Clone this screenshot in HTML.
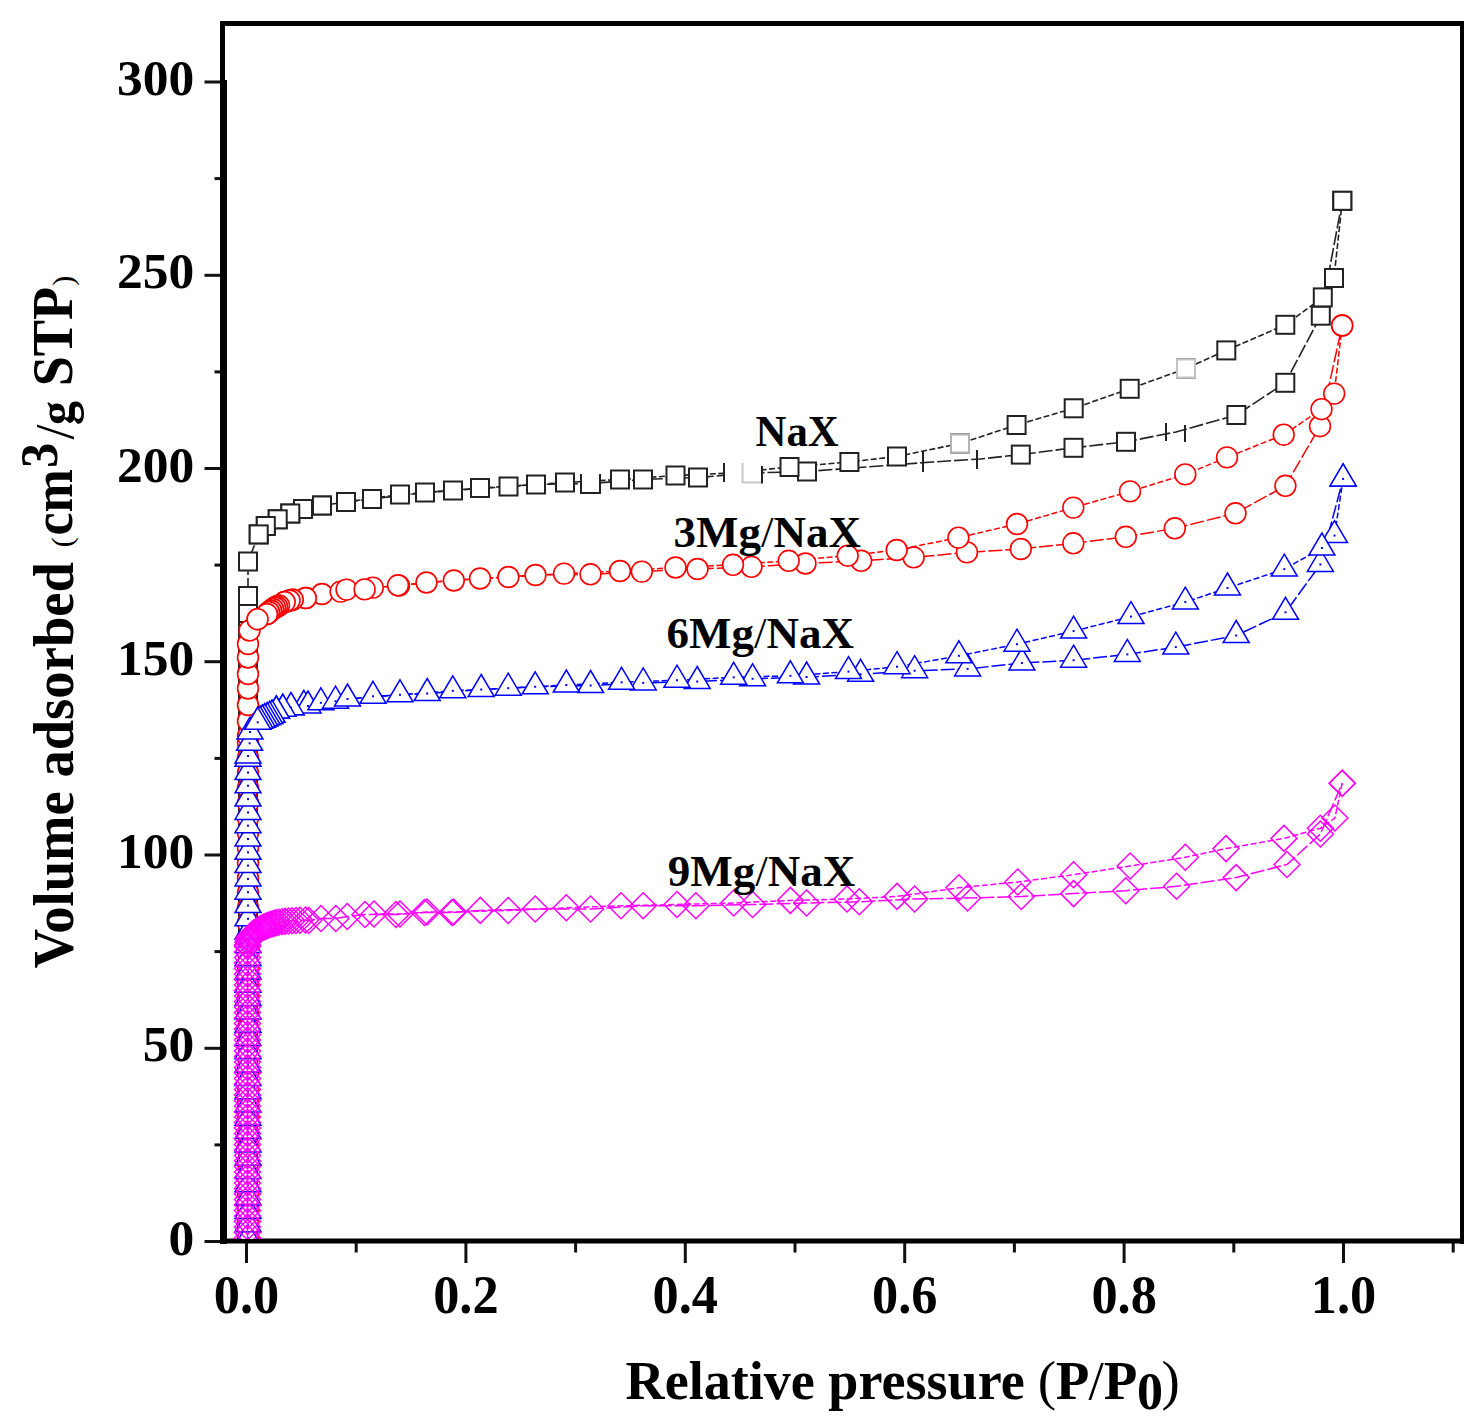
<!DOCTYPE html>
<html><head><meta charset="utf-8"><title>Isotherms</title>
<style>html,body{margin:0;padding:0;background:#fff;width:1481px;height:1426px;overflow:hidden} svg{display:block}</style>
</head><body>
<svg width="1481" height="1426" viewBox="0 0 1481 1426">
<defs><clipPath id="pa"><rect x="220" y="26" width="1240" height="1213"/></clipPath></defs>
<rect x="0" y="0" width="1481" height="1426" fill="#fff"/>
<g fill="#000">
<rect x="220" y="21" width="1244" height="5"/>
<rect x="1460" y="21" width="4" height="1223"/>
<rect x="220" y="21" width="5" height="62"/>
<rect x="220" y="80" width="7" height="1164"/>
<rect x="220" y="1238.5" width="1244" height="5"/>
</g>
<g fill="#111">
<rect x="204.5" y="1240.0" width="16" height="3"/>
<rect x="214.5" y="1143.4" width="6" height="3"/>
<rect x="204.5" y="1046.8" width="16" height="3"/>
<rect x="214.5" y="950.1" width="6" height="3"/>
<rect x="204.5" y="853.5" width="16" height="3"/>
<rect x="214.5" y="756.9" width="6" height="3"/>
<rect x="204.5" y="660.2" width="16" height="3"/>
<rect x="214.5" y="563.6" width="6" height="3"/>
<rect x="204.5" y="467.0" width="16" height="3"/>
<rect x="214.5" y="370.4" width="6" height="3"/>
<rect x="204.5" y="273.8" width="16" height="3"/>
<rect x="214.5" y="177.1" width="6" height="3"/>
<rect x="204.5" y="80.5" width="16" height="3"/>
<rect x="245.0" y="1243" width="3" height="20"/>
<rect x="354.7" y="1243" width="3" height="9.5"/>
<rect x="464.4" y="1243" width="3" height="20"/>
<rect x="574.1" y="1243" width="3" height="9.5"/>
<rect x="683.8" y="1243" width="3" height="20"/>
<rect x="793.5" y="1243" width="3" height="9.5"/>
<rect x="903.2" y="1243" width="3" height="20"/>
<rect x="1012.9" y="1243" width="3" height="9.5"/>
<rect x="1122.6" y="1243" width="3" height="20"/>
<rect x="1232.3" y="1243" width="3" height="9.5"/>
<rect x="1342.0" y="1243" width="3" height="20"/>
<rect x="1451.7" y="1243" width="3" height="9.5"/>
</g>
<g font-family="Liberation Serif, serif" font-weight="bold" font-size="51.5" fill="#000">
<text x="194.3" y="1254.5" text-anchor="end">0</text>
<text x="194.3" y="1061.2" text-anchor="end">50</text>
<text x="194.3" y="868.0" text-anchor="end">100</text>
<text x="194.3" y="674.8" text-anchor="end">150</text>
<text x="194.3" y="481.5" text-anchor="end">200</text>
<text x="194.3" y="288.2" text-anchor="end">250</text>
<text x="194.3" y="95.0" text-anchor="end">300</text>
</g>
<g font-family="Liberation Serif, serif" font-weight="bold" font-size="54" fill="#000">
<g transform="translate(246.5,1312.6) scale(0.97,1)"><text x="0" y="0" text-anchor="middle">0.0</text></g>
<g transform="translate(465.9,1312.6) scale(0.97,1)"><text x="0" y="0" text-anchor="middle">0.2</text></g>
<g transform="translate(685.3,1312.6) scale(0.97,1)"><text x="0" y="0" text-anchor="middle">0.4</text></g>
<g transform="translate(904.7,1312.6) scale(0.97,1)"><text x="0" y="0" text-anchor="middle">0.6</text></g>
<g transform="translate(1124.1,1312.6) scale(0.97,1)"><text x="0" y="0" text-anchor="middle">0.8</text></g>
<g transform="translate(1343.5,1312.6) scale(0.97,1)"><text x="0" y="0" text-anchor="middle">1.0</text></g>
</g>
<g clip-path="url(#pa)">
<path d="M248.0,1238.0 L248.0,1221.0 L248.0,1204.0 L248.0,1187.0 L248.0,1170.0 L248.0,1153.0 L248.0,1136.0 L248.0,1119.0 L248.0,1102.0 L248.0,1085.0 L248.0,1068.0 L248.0,1051.0 L248.0,1034.0 L248.0,1017.0 L248.0,1000.0 L248.0,983.0 L248.0,966.0 L248.0,949.0 L248.0,932.0 L248.0,915.0 L248.0,898.0 L248.0,881.0 L248.0,864.0 L248.0,847.0 L248.0,830.0 L248.0,813.0 L248.0,796.0 L248.0,779.0 L248.0,762.0 L248.0,745.0 L248.0,728.0 L248.0,711.0 L248.0,694.0 L248.0,677.0 L248.0,660.0 L248.0,643.0 L248.0,630.0 L248.0,613.0 L248.0,596.0 L248.0,561.5 L258.7,534.4 L265.8,526.0 L277.7,519.3 L290.3,513.5 L303.0,509.0 L322.0,505.5 L346.0,502.0 L372.0,499.0 L425.0,492.5 L480.0,488.0 L536.0,484.5 L590.0,483.5 L643.0,479.5 L698.0,477.5 L751.5,473.0 L807.0,471.5 L932.0,462.0 L980.0,459.0 L1020.8,454.6 L1073.5,447.8 L1126.0,441.8 L1176.0,432.0 L1236.4,415.0 L1285.3,382.8 L1320.8,315.7 L1342.3,200.8" fill="none" stroke="#222" stroke-width="1.6" stroke-dasharray="14,3"/>
<path d="M1342.3,200.8 L1334.0,278.0 L1322.8,297.4 L1285.3,324.8 L1226.3,350.4 L1186.0,368.5 L1129.7,388.8 L1073.7,408.3 L1016.6,425.0 L960.0,443.5 L897.0,456.5 L849.4,462.0 L789.5,467.0 L733.0,473.0 L675.5,475.5 L620.0,479.5 L565.0,482.5 L508.5,486.5 L453.0,490.5 L400.0,494.5 L346.0,502.0" fill="none" stroke="#222" stroke-width="1.6" stroke-dasharray="6,2.5"/>
<g fill="#fff" stroke="#222" stroke-width="2">
<rect x="239.0" y="1229.0" width="18.0" height="18.0"/>
<rect x="239.0" y="1212.0" width="18.0" height="18.0"/>
<rect x="239.0" y="1195.0" width="18.0" height="18.0"/>
<rect x="239.0" y="1178.0" width="18.0" height="18.0"/>
<rect x="239.0" y="1161.0" width="18.0" height="18.0"/>
<rect x="239.0" y="1144.0" width="18.0" height="18.0"/>
<rect x="239.0" y="1127.0" width="18.0" height="18.0"/>
<rect x="239.0" y="1110.0" width="18.0" height="18.0"/>
<rect x="239.0" y="1093.0" width="18.0" height="18.0"/>
<rect x="239.0" y="1076.0" width="18.0" height="18.0"/>
<rect x="239.0" y="1059.0" width="18.0" height="18.0"/>
<rect x="239.0" y="1042.0" width="18.0" height="18.0"/>
<rect x="239.0" y="1025.0" width="18.0" height="18.0"/>
<rect x="239.0" y="1008.0" width="18.0" height="18.0"/>
<rect x="239.0" y="991.0" width="18.0" height="18.0"/>
<rect x="239.0" y="974.0" width="18.0" height="18.0"/>
<rect x="239.0" y="957.0" width="18.0" height="18.0"/>
<rect x="239.0" y="940.0" width="18.0" height="18.0"/>
<rect x="239.0" y="923.0" width="18.0" height="18.0"/>
<rect x="239.0" y="906.0" width="18.0" height="18.0"/>
<rect x="239.0" y="889.0" width="18.0" height="18.0"/>
<rect x="239.0" y="872.0" width="18.0" height="18.0"/>
<rect x="239.0" y="855.0" width="18.0" height="18.0"/>
<rect x="239.0" y="838.0" width="18.0" height="18.0"/>
<rect x="239.0" y="821.0" width="18.0" height="18.0"/>
<rect x="239.0" y="804.0" width="18.0" height="18.0"/>
<rect x="239.0" y="787.0" width="18.0" height="18.0"/>
<rect x="239.0" y="770.0" width="18.0" height="18.0"/>
<rect x="239.0" y="753.0" width="18.0" height="18.0"/>
<rect x="239.0" y="736.0" width="18.0" height="18.0"/>
<rect x="239.0" y="719.0" width="18.0" height="18.0"/>
<rect x="239.0" y="702.0" width="18.0" height="18.0"/>
<rect x="239.0" y="685.0" width="18.0" height="18.0"/>
<rect x="239.0" y="668.0" width="18.0" height="18.0"/>
<rect x="239.0" y="651.0" width="18.0" height="18.0"/>
<rect x="239.0" y="634.0" width="18.0" height="18.0"/>
<rect x="239.0" y="621.0" width="18.0" height="18.0"/>
<rect x="239.0" y="604.0" width="18.0" height="18.0"/>
<rect x="239.0" y="587.0" width="18.0" height="18.0"/>
<rect x="239.0" y="552.5" width="18.0" height="18.0"/>
<rect x="249.7" y="525.4" width="18.0" height="18.0"/>
<rect x="256.8" y="517.0" width="18.0" height="18.0"/>
<rect x="268.7" y="510.3" width="18.0" height="18.0"/>
<rect x="281.3" y="504.5" width="18.0" height="18.0"/>
<rect x="294.0" y="500.0" width="18.0" height="18.0"/>
<rect x="313.0" y="496.5" width="18.0" height="18.0"/>
<rect x="337.0" y="493.0" width="18.0" height="18.0"/>
<rect x="363.0" y="490.0" width="18.0" height="18.0"/>
<rect x="416.0" y="483.5" width="18.0" height="18.0"/>
<rect x="471.0" y="479.0" width="18.0" height="18.0"/>
<rect x="527.0" y="475.5" width="18.0" height="18.0"/>
<rect x="634.0" y="470.5" width="18.0" height="18.0"/>
<rect x="689.0" y="468.5" width="18.0" height="18.0"/>
<rect x="798.0" y="462.5" width="18.0" height="18.0"/>
<rect x="1011.8" y="445.6" width="18.0" height="18.0"/>
<rect x="1064.5" y="438.8" width="18.0" height="18.0"/>
<rect x="1117.0" y="432.8" width="18.0" height="18.0"/>
<rect x="1227.4" y="406.0" width="18.0" height="18.0"/>
<rect x="1276.3" y="373.8" width="18.0" height="18.0"/>
<rect x="1311.8" y="306.7" width="18.0" height="18.0"/>
<rect x="1333.3" y="191.8" width="18.0" height="18.0"/>
<rect x="1333.3" y="191.8" width="18.0" height="18.0"/>
<rect x="1325.0" y="269.0" width="18.0" height="18.0"/>
<rect x="1313.8" y="288.4" width="18.0" height="18.0"/>
<rect x="1276.3" y="315.8" width="18.0" height="18.0"/>
<rect x="1217.3" y="341.4" width="18.0" height="18.0"/>
<rect x="1177.0" y="359.5" width="18.0" height="18.0"/>
<rect x="1120.7" y="379.8" width="18.0" height="18.0"/>
<rect x="1064.7" y="399.3" width="18.0" height="18.0"/>
<rect x="1007.6" y="416.0" width="18.0" height="18.0"/>
<rect x="951.0" y="434.5" width="18.0" height="18.0"/>
<rect x="888.0" y="447.5" width="18.0" height="18.0"/>
<rect x="840.4" y="453.0" width="18.0" height="18.0"/>
<rect x="780.5" y="458.0" width="18.0" height="18.0"/>
<rect x="666.5" y="466.5" width="18.0" height="18.0"/>
<rect x="611.0" y="470.5" width="18.0" height="18.0"/>
<rect x="556.0" y="473.5" width="18.0" height="18.0"/>
<rect x="499.5" y="477.5" width="18.0" height="18.0"/>
<rect x="444.0" y="481.5" width="18.0" height="18.0"/>
<rect x="391.0" y="485.5" width="18.0" height="18.0"/>
<rect x="337.0" y="493.0" width="18.0" height="18.0"/>
<rect x="313.0" y="496.5" width="18.0" height="18.0"/>
<rect x="294.0" y="500.0" width="18.0" height="18.0"/>
<rect x="281.3" y="504.5" width="18.0" height="18.0"/>
<rect x="268.7" y="510.3" width="18.0" height="18.0"/>
<rect x="256.8" y="517.0" width="18.0" height="18.0"/>
<rect x="249.7" y="525.4" width="18.0" height="18.0"/>
</g>
<g fill="#fff" stroke-width="2"><rect x="951" y="434.5" width="18" height="18" stroke="#b4b4b4"/><rect x="1177" y="359.5" width="18" height="18" stroke="#c4c4c4"/></g>
<g stroke="#222" stroke-width="2"><rect x="581" y="474" width="19" height="19" fill="#fff" stroke="none"/><rect x="724" y="463" width="38" height="20" fill="#fff" stroke="none"/><path d="M581,474 L581,493 L600,493 L600,474" fill="none"/><line x1="724" y1="463" x2="724" y2="482"/><line x1="762" y1="466" x2="762" y2="483.5"/><path d="M742.6,463 L742.6,482.5 L761,482.5" fill="none" stroke="#c8c8c8"/><line x1="923" y1="451" x2="923" y2="472"/><line x1="977" y1="450" x2="977" y2="469"/><line x1="1166" y1="423" x2="1166" y2="441"/><line x1="1185" y1="425" x2="1185" y2="442"/></g>
<path d="M248.0,1238.0 L248.0,1223.0 L248.0,1208.0 L248.0,1193.0 L248.0,1178.0 L248.0,1163.0 L248.0,1148.0 L248.0,1133.0 L248.0,1118.0 L248.0,1103.0 L248.0,1088.0 L248.0,1073.0 L248.0,1058.0 L248.0,1043.0 L248.0,1028.0 L248.0,1013.0 L248.0,998.0 L248.0,983.0 L248.0,968.0 L248.0,953.0 L248.0,938.0 L248.0,923.0 L248.0,908.0 L248.0,893.0 L248.0,878.0 L248.0,863.0 L248.0,848.0 L248.0,833.0 L248.0,818.0 L248.0,803.0 L248.0,788.0 L248.0,773.0 L248.0,758.0 L248.0,743.0 L248.0,736.0 L248.0,721.0 L248.0,705.0 L248.0,688.5 L248.0,674.0 L248.0,657.5 L248.0,644.0 L249.5,630.5 L257.6,619.2 L267.0,614.0 L269.0,612.0 L271.0,610.5 L273.0,609.0 L275.0,607.5 L277.0,606.5 L279.0,605.4 L284.7,602.0 L289.6,600.5 L292.8,599.7 L305.8,598.0 L322.0,594.0 L340.6,591.6 L346.5,589.6 L372.8,587.6 L399.0,585.6 L426.5,582.5 L480.0,578.5 L535.5,575.0 L590.5,574.3 L641.8,571.6 L697.5,569.0 L751.5,566.8 L805.5,563.5 L861.2,560.8 L913.6,557.4 L967.0,552.4 L1020.8,549.0 L1073.3,543.3 L1125.8,536.8 L1174.8,528.3 L1235.5,513.3 L1285.4,485.8 L1320.0,426.2 L1342.2,325.5" fill="none" stroke="#f00" stroke-width="1.5" stroke-dasharray="14,3"/>
<path d="M1342.2,325.5 L1334.2,393.6 L1321.5,409.2 L1283.7,434.7 L1227.0,457.4 L1185.3,474.4 L1130.0,491.4 L1073.3,507.6 L1017.0,524.0 L958.4,537.7 L896.7,550.0 L847.7,555.7 L788.7,560.8 L733.0,564.8 L675.5,567.5 L620.0,571.0 L564.0,573.6 L508.4,577.0 L453.8,580.5 L398.0,585.3 L364.6,589.4" fill="none" stroke="#f00" stroke-width="1.5" stroke-dasharray="6,2.5"/>
<g fill="#fff" stroke="#f00" stroke-width="1.6">
<circle cx="248.0" cy="1238.0" r="10.4"/>
<circle cx="248.0" cy="1223.0" r="10.4"/>
<circle cx="248.0" cy="1208.0" r="10.4"/>
<circle cx="248.0" cy="1193.0" r="10.4"/>
<circle cx="248.0" cy="1178.0" r="10.4"/>
<circle cx="248.0" cy="1163.0" r="10.4"/>
<circle cx="248.0" cy="1148.0" r="10.4"/>
<circle cx="248.0" cy="1133.0" r="10.4"/>
<circle cx="248.0" cy="1118.0" r="10.4"/>
<circle cx="248.0" cy="1103.0" r="10.4"/>
<circle cx="248.0" cy="1088.0" r="10.4"/>
<circle cx="248.0" cy="1073.0" r="10.4"/>
<circle cx="248.0" cy="1058.0" r="10.4"/>
<circle cx="248.0" cy="1043.0" r="10.4"/>
<circle cx="248.0" cy="1028.0" r="10.4"/>
<circle cx="248.0" cy="1013.0" r="10.4"/>
<circle cx="248.0" cy="998.0" r="10.4"/>
<circle cx="248.0" cy="983.0" r="10.4"/>
<circle cx="248.0" cy="968.0" r="10.4"/>
<circle cx="248.0" cy="953.0" r="10.4"/>
<circle cx="248.0" cy="938.0" r="10.4"/>
<circle cx="248.0" cy="923.0" r="10.4"/>
<circle cx="248.0" cy="908.0" r="10.4"/>
<circle cx="248.0" cy="893.0" r="10.4"/>
<circle cx="248.0" cy="878.0" r="10.4"/>
<circle cx="248.0" cy="863.0" r="10.4"/>
<circle cx="248.0" cy="848.0" r="10.4"/>
<circle cx="248.0" cy="833.0" r="10.4"/>
<circle cx="248.0" cy="818.0" r="10.4"/>
<circle cx="248.0" cy="803.0" r="10.4"/>
<circle cx="248.0" cy="788.0" r="10.4"/>
<circle cx="248.0" cy="773.0" r="10.4"/>
<circle cx="248.0" cy="758.0" r="10.4"/>
<circle cx="248.0" cy="743.0" r="10.4"/>
<circle cx="248.0" cy="736.0" r="10.4"/>
<circle cx="248.0" cy="721.0" r="10.4"/>
<circle cx="248.0" cy="705.0" r="10.4"/>
<circle cx="248.0" cy="688.5" r="10.4"/>
<circle cx="248.0" cy="674.0" r="10.4"/>
<circle cx="248.0" cy="657.5" r="10.4"/>
<circle cx="248.0" cy="644.0" r="10.4"/>
<circle cx="249.5" cy="630.5" r="10.4"/>
<circle cx="257.6" cy="619.2" r="10.4"/>
<circle cx="267.0" cy="614.0" r="10.4"/>
<circle cx="269.0" cy="612.0" r="10.4"/>
<circle cx="271.0" cy="610.5" r="10.4"/>
<circle cx="273.0" cy="609.0" r="10.4"/>
<circle cx="275.0" cy="607.5" r="10.4"/>
<circle cx="277.0" cy="606.5" r="10.4"/>
<circle cx="279.0" cy="605.4" r="10.4"/>
<circle cx="284.7" cy="602.0" r="10.4"/>
<circle cx="289.6" cy="600.5" r="10.4"/>
<circle cx="292.8" cy="599.7" r="10.4"/>
<circle cx="305.8" cy="598.0" r="10.4"/>
<circle cx="322.0" cy="594.0" r="10.4"/>
<circle cx="340.6" cy="591.6" r="10.4"/>
<circle cx="346.5" cy="589.6" r="10.4"/>
<circle cx="372.8" cy="587.6" r="10.4"/>
<circle cx="399.0" cy="585.6" r="10.4"/>
<circle cx="426.5" cy="582.5" r="10.4"/>
<circle cx="480.0" cy="578.5" r="10.4"/>
<circle cx="535.5" cy="575.0" r="10.4"/>
<circle cx="590.5" cy="574.3" r="10.4"/>
<circle cx="641.8" cy="571.6" r="10.4"/>
<circle cx="697.5" cy="569.0" r="10.4"/>
<circle cx="751.5" cy="566.8" r="10.4"/>
<circle cx="805.5" cy="563.5" r="10.4"/>
<circle cx="861.2" cy="560.8" r="10.4"/>
<circle cx="913.6" cy="557.4" r="10.4"/>
<circle cx="967.0" cy="552.4" r="10.4"/>
<circle cx="1020.8" cy="549.0" r="10.4"/>
<circle cx="1073.3" cy="543.3" r="10.4"/>
<circle cx="1125.8" cy="536.8" r="10.4"/>
<circle cx="1174.8" cy="528.3" r="10.4"/>
<circle cx="1235.5" cy="513.3" r="10.4"/>
<circle cx="1285.4" cy="485.8" r="10.4"/>
<circle cx="1320.0" cy="426.2" r="10.4"/>
<circle cx="1342.2" cy="325.5" r="10.4"/>
<circle cx="1342.2" cy="325.5" r="10.4"/>
<circle cx="1334.2" cy="393.6" r="10.4"/>
<circle cx="1321.5" cy="409.2" r="10.4"/>
<circle cx="1283.7" cy="434.7" r="10.4"/>
<circle cx="1227.0" cy="457.4" r="10.4"/>
<circle cx="1185.3" cy="474.4" r="10.4"/>
<circle cx="1130.0" cy="491.4" r="10.4"/>
<circle cx="1073.3" cy="507.6" r="10.4"/>
<circle cx="1017.0" cy="524.0" r="10.4"/>
<circle cx="958.4" cy="537.7" r="10.4"/>
<circle cx="896.7" cy="550.0" r="10.4"/>
<circle cx="847.7" cy="555.7" r="10.4"/>
<circle cx="788.7" cy="560.8" r="10.4"/>
<circle cx="733.0" cy="564.8" r="10.4"/>
<circle cx="675.5" cy="567.5" r="10.4"/>
<circle cx="620.0" cy="571.0" r="10.4"/>
<circle cx="564.0" cy="573.6" r="10.4"/>
<circle cx="508.4" cy="577.0" r="10.4"/>
<circle cx="453.8" cy="580.5" r="10.4"/>
<circle cx="398.0" cy="585.3" r="10.4"/>
<circle cx="364.6" cy="589.4" r="10.4"/>
<circle cx="305.8" cy="598.0" r="10.4"/>
<circle cx="292.8" cy="599.7" r="10.4"/>
<circle cx="289.6" cy="600.5" r="10.4"/>
<circle cx="284.7" cy="602.0" r="10.4"/>
<circle cx="279.0" cy="605.4" r="10.4"/>
<circle cx="277.0" cy="606.5" r="10.4"/>
<circle cx="275.0" cy="607.5" r="10.4"/>
<circle cx="273.0" cy="609.0" r="10.4"/>
<circle cx="271.0" cy="610.5" r="10.4"/>
<circle cx="269.0" cy="612.0" r="10.4"/>
<circle cx="267.0" cy="614.0" r="10.4"/>
<circle cx="257.6" cy="619.2" r="10.4"/>
</g>
<path d="M248.0,1238.0 L248.0,1224.7 L248.0,1211.4 L248.0,1198.1 L248.0,1184.8 L248.0,1171.5 L248.0,1158.2 L248.0,1144.9 L248.0,1131.6 L248.0,1118.3 L248.0,1105.0 L248.0,1091.7 L248.0,1078.4 L248.0,1065.1 L248.0,1051.8 L248.0,1038.5 L248.0,1025.2 L248.0,1011.9 L248.0,998.6 L248.0,985.3 L248.0,972.0 L248.0,958.7 L248.0,945.4 L248.0,932.1 L248.0,918.8 L248.0,905.5 L248.0,892.2 L248.0,878.9 L248.0,865.6 L248.0,852.3 L248.0,839.0 L248.0,825.7 L248.0,812.4 L248.0,799.1 L248.0,785.8 L248.0,772.5 L248.0,759.2 L248.0,756.0 L249.6,743.3 L250.0,732.0 L257.7,722.3 L260.0,721.2 L262.4,720.0 L264.8,718.8 L267.2,717.6 L269.6,716.4 L272.0,715.2 L276.3,711.0 L282.8,709.3 L291.0,707.7 L303.9,705.3 L308.0,706.0 L320.9,702.8 L335.5,701.2 L373.0,696.3 L427.2,693.5 L481.2,689.5 L535.2,686.8 L590.6,685.5 L643.2,682.9 L697.2,681.5 L752.6,678.8 L806.6,677.0 L860.6,674.3 L914.6,670.7 L967.6,668.9 L1021.9,663.0 L1073.6,660.2 L1127.3,654.4 L1175.8,647.1 L1236.2,635.5 L1285.5,612.3 L1320.4,564.4 L1343.1,478.9" fill="none" stroke="#00f" stroke-width="1.5" stroke-dasharray="14,3"/>
<path d="M1343.1,478.9 L1334.5,535.6 L1321.9,548.0 L1284.3,569.1 L1227.5,588.0 L1185.3,602.1 L1131.0,616.6 L1073.6,631.1 L1017.0,644.2 L958.9,655.8 L897.0,666.7 L848.5,671.6 L790.4,675.8 L733.7,677.3 L677.0,680.2 L621.6,682.3 L566.3,685.0 L508.2,688.2 L452.8,690.8 L400.0,694.8 L347.5,699.0" fill="none" stroke="#00f" stroke-width="1.5" stroke-dasharray="6,2.5"/>
<g fill="#fff" stroke="#00f" stroke-width="1.5">
<path d="M248.0,1223.0 L261.0,1245.0 L235.0,1245.0 Z"/><rect x="247.0" y="1237.0" width="2" height="2" fill="#00f" stroke="none"/>
<path d="M248.0,1209.7 L261.0,1231.7 L235.0,1231.7 Z"/><rect x="247.0" y="1223.7" width="2" height="2" fill="#00f" stroke="none"/>
<path d="M248.0,1196.4 L261.0,1218.4 L235.0,1218.4 Z"/><rect x="247.0" y="1210.4" width="2" height="2" fill="#00f" stroke="none"/>
<path d="M248.0,1183.1 L261.0,1205.1 L235.0,1205.1 Z"/><rect x="247.0" y="1197.1" width="2" height="2" fill="#00f" stroke="none"/>
<path d="M248.0,1169.8 L261.0,1191.8 L235.0,1191.8 Z"/><rect x="247.0" y="1183.8" width="2" height="2" fill="#00f" stroke="none"/>
<path d="M248.0,1156.5 L261.0,1178.5 L235.0,1178.5 Z"/><rect x="247.0" y="1170.5" width="2" height="2" fill="#00f" stroke="none"/>
<path d="M248.0,1143.2 L261.0,1165.2 L235.0,1165.2 Z"/><rect x="247.0" y="1157.2" width="2" height="2" fill="#00f" stroke="none"/>
<path d="M248.0,1129.9 L261.0,1151.9 L235.0,1151.9 Z"/><rect x="247.0" y="1143.9" width="2" height="2" fill="#00f" stroke="none"/>
<path d="M248.0,1116.6 L261.0,1138.6 L235.0,1138.6 Z"/><rect x="247.0" y="1130.6" width="2" height="2" fill="#00f" stroke="none"/>
<path d="M248.0,1103.3 L261.0,1125.3 L235.0,1125.3 Z"/><rect x="247.0" y="1117.3" width="2" height="2" fill="#00f" stroke="none"/>
<path d="M248.0,1090.0 L261.0,1112.0 L235.0,1112.0 Z"/><rect x="247.0" y="1104.0" width="2" height="2" fill="#00f" stroke="none"/>
<path d="M248.0,1076.7 L261.0,1098.7 L235.0,1098.7 Z"/><rect x="247.0" y="1090.7" width="2" height="2" fill="#00f" stroke="none"/>
<path d="M248.0,1063.4 L261.0,1085.4 L235.0,1085.4 Z"/><rect x="247.0" y="1077.4" width="2" height="2" fill="#00f" stroke="none"/>
<path d="M248.0,1050.1 L261.0,1072.1 L235.0,1072.1 Z"/><rect x="247.0" y="1064.1" width="2" height="2" fill="#00f" stroke="none"/>
<path d="M248.0,1036.8 L261.0,1058.8 L235.0,1058.8 Z"/><rect x="247.0" y="1050.8" width="2" height="2" fill="#00f" stroke="none"/>
<path d="M248.0,1023.5 L261.0,1045.5 L235.0,1045.5 Z"/><rect x="247.0" y="1037.5" width="2" height="2" fill="#00f" stroke="none"/>
<path d="M248.0,1010.2 L261.0,1032.2 L235.0,1032.2 Z"/><rect x="247.0" y="1024.2" width="2" height="2" fill="#00f" stroke="none"/>
<path d="M248.0,996.9 L261.0,1018.9 L235.0,1018.9 Z"/><rect x="247.0" y="1010.9" width="2" height="2" fill="#00f" stroke="none"/>
<path d="M248.0,983.6 L261.0,1005.6 L235.0,1005.6 Z"/><rect x="247.0" y="997.6" width="2" height="2" fill="#00f" stroke="none"/>
<path d="M248.0,970.3 L261.0,992.3 L235.0,992.3 Z"/><rect x="247.0" y="984.3" width="2" height="2" fill="#00f" stroke="none"/>
<path d="M248.0,957.0 L261.0,979.0 L235.0,979.0 Z"/><rect x="247.0" y="971.0" width="2" height="2" fill="#00f" stroke="none"/>
<path d="M248.0,943.7 L261.0,965.7 L235.0,965.7 Z"/><rect x="247.0" y="957.7" width="2" height="2" fill="#00f" stroke="none"/>
<path d="M248.0,930.4 L261.0,952.4 L235.0,952.4 Z"/><rect x="247.0" y="944.4" width="2" height="2" fill="#00f" stroke="none"/>
<path d="M248.0,917.1 L261.0,939.1 L235.0,939.1 Z"/><rect x="247.0" y="931.1" width="2" height="2" fill="#00f" stroke="none"/>
<path d="M248.0,903.8 L261.0,925.8 L235.0,925.8 Z"/><rect x="247.0" y="917.8" width="2" height="2" fill="#00f" stroke="none"/>
<path d="M248.0,890.5 L261.0,912.5 L235.0,912.5 Z"/><rect x="247.0" y="904.5" width="2" height="2" fill="#00f" stroke="none"/>
<path d="M248.0,877.2 L261.0,899.2 L235.0,899.2 Z"/><rect x="247.0" y="891.2" width="2" height="2" fill="#00f" stroke="none"/>
<path d="M248.0,863.9 L261.0,885.9 L235.0,885.9 Z"/><rect x="247.0" y="877.9" width="2" height="2" fill="#00f" stroke="none"/>
<path d="M248.0,850.6 L261.0,872.6 L235.0,872.6 Z"/><rect x="247.0" y="864.6" width="2" height="2" fill="#00f" stroke="none"/>
<path d="M248.0,837.3 L261.0,859.3 L235.0,859.3 Z"/><rect x="247.0" y="851.3" width="2" height="2" fill="#00f" stroke="none"/>
<path d="M248.0,824.0 L261.0,846.0 L235.0,846.0 Z"/><rect x="247.0" y="838.0" width="2" height="2" fill="#00f" stroke="none"/>
<path d="M248.0,810.7 L261.0,832.7 L235.0,832.7 Z"/><rect x="247.0" y="824.7" width="2" height="2" fill="#00f" stroke="none"/>
<path d="M248.0,797.4 L261.0,819.4 L235.0,819.4 Z"/><rect x="247.0" y="811.4" width="2" height="2" fill="#00f" stroke="none"/>
<path d="M248.0,784.1 L261.0,806.1 L235.0,806.1 Z"/><rect x="247.0" y="798.1" width="2" height="2" fill="#00f" stroke="none"/>
<path d="M248.0,770.8 L261.0,792.8 L235.0,792.8 Z"/><rect x="247.0" y="784.8" width="2" height="2" fill="#00f" stroke="none"/>
<path d="M248.0,757.5 L261.0,779.5 L235.0,779.5 Z"/><rect x="247.0" y="771.5" width="2" height="2" fill="#00f" stroke="none"/>
<path d="M248.0,744.2 L261.0,766.2 L235.0,766.2 Z"/><rect x="247.0" y="758.2" width="2" height="2" fill="#00f" stroke="none"/>
<path d="M248.0,741.0 L261.0,763.0 L235.0,763.0 Z"/><rect x="247.0" y="755.0" width="2" height="2" fill="#00f" stroke="none"/>
<path d="M249.6,728.3 L262.6,750.3 L236.6,750.3 Z"/><rect x="248.6" y="742.3" width="2" height="2" fill="#00f" stroke="none"/>
<path d="M250.0,717.0 L263.0,739.0 L237.0,739.0 Z"/><rect x="249.0" y="731.0" width="2" height="2" fill="#00f" stroke="none"/>
<path d="M257.7,707.3 L270.7,729.3 L244.7,729.3 Z"/><rect x="256.7" y="721.3" width="2" height="2" fill="#00f" stroke="none"/>
<path d="M260.0,706.2 L273.0,728.2 L247.0,728.2 Z"/><rect x="259.0" y="720.2" width="2" height="2" fill="#00f" stroke="none"/>
<path d="M262.4,705.0 L275.4,727.0 L249.4,727.0 Z"/><rect x="261.4" y="719.0" width="2" height="2" fill="#00f" stroke="none"/>
<path d="M264.8,703.8 L277.8,725.8 L251.8,725.8 Z"/><rect x="263.8" y="717.8" width="2" height="2" fill="#00f" stroke="none"/>
<path d="M267.2,702.6 L280.2,724.6 L254.2,724.6 Z"/><rect x="266.2" y="716.6" width="2" height="2" fill="#00f" stroke="none"/>
<path d="M269.6,701.4 L282.6,723.4 L256.6,723.4 Z"/><rect x="268.6" y="715.4" width="2" height="2" fill="#00f" stroke="none"/>
<path d="M272.0,700.2 L285.0,722.2 L259.0,722.2 Z"/><rect x="271.0" y="714.2" width="2" height="2" fill="#00f" stroke="none"/>
<path d="M276.3,696.0 L289.3,718.0 L263.3,718.0 Z"/><rect x="275.3" y="710.0" width="2" height="2" fill="#00f" stroke="none"/>
<path d="M282.8,694.3 L295.8,716.3 L269.8,716.3 Z"/><rect x="281.8" y="708.3" width="2" height="2" fill="#00f" stroke="none"/>
<path d="M291.0,692.7 L304.0,714.7 L278.0,714.7 Z"/><rect x="290.0" y="706.7" width="2" height="2" fill="#00f" stroke="none"/>
<path d="M303.9,690.3 L316.9,712.3 L290.9,712.3 Z"/><rect x="302.9" y="704.3" width="2" height="2" fill="#00f" stroke="none"/>
<path d="M308.0,691.0 L321.0,713.0 L295.0,713.0 Z"/><rect x="307.0" y="705.0" width="2" height="2" fill="#00f" stroke="none"/>
<path d="M320.9,687.8 L333.9,709.8 L307.9,709.8 Z"/><rect x="319.9" y="701.8" width="2" height="2" fill="#00f" stroke="none"/>
<path d="M335.5,686.2 L348.5,708.2 L322.5,708.2 Z"/><rect x="334.5" y="700.2" width="2" height="2" fill="#00f" stroke="none"/>
<path d="M373.0,681.3 L386.0,703.3 L360.0,703.3 Z"/><rect x="372.0" y="695.3" width="2" height="2" fill="#00f" stroke="none"/>
<path d="M427.2,678.5 L440.2,700.5 L414.2,700.5 Z"/><rect x="426.2" y="692.5" width="2" height="2" fill="#00f" stroke="none"/>
<path d="M481.2,674.5 L494.2,696.5 L468.2,696.5 Z"/><rect x="480.2" y="688.5" width="2" height="2" fill="#00f" stroke="none"/>
<path d="M535.2,671.8 L548.2,693.8 L522.2,693.8 Z"/><rect x="534.2" y="685.8" width="2" height="2" fill="#00f" stroke="none"/>
<path d="M590.6,670.5 L603.6,692.5 L577.6,692.5 Z"/><rect x="589.6" y="684.5" width="2" height="2" fill="#00f" stroke="none"/>
<path d="M643.2,667.9 L656.2,689.9 L630.2,689.9 Z"/><rect x="642.2" y="681.9" width="2" height="2" fill="#00f" stroke="none"/>
<path d="M697.2,666.5 L710.2,688.5 L684.2,688.5 Z"/><rect x="696.2" y="680.5" width="2" height="2" fill="#00f" stroke="none"/>
<path d="M752.6,663.8 L765.6,685.8 L739.6,685.8 Z"/><rect x="751.6" y="677.8" width="2" height="2" fill="#00f" stroke="none"/>
<path d="M806.6,662.0 L819.6,684.0 L793.6,684.0 Z"/><rect x="805.6" y="676.0" width="2" height="2" fill="#00f" stroke="none"/>
<path d="M860.6,659.3 L873.6,681.3 L847.6,681.3 Z"/><rect x="859.6" y="673.3" width="2" height="2" fill="#00f" stroke="none"/>
<path d="M914.6,655.7 L927.6,677.7 L901.6,677.7 Z"/><rect x="913.6" y="669.7" width="2" height="2" fill="#00f" stroke="none"/>
<path d="M967.6,653.9 L980.6,675.9 L954.6,675.9 Z"/><rect x="966.6" y="667.9" width="2" height="2" fill="#00f" stroke="none"/>
<path d="M1021.9,648.0 L1034.9,670.0 L1008.9,670.0 Z"/><rect x="1020.9" y="662.0" width="2" height="2" fill="#00f" stroke="none"/>
<path d="M1073.6,645.2 L1086.6,667.2 L1060.6,667.2 Z"/><rect x="1072.6" y="659.2" width="2" height="2" fill="#00f" stroke="none"/>
<path d="M1127.3,639.4 L1140.3,661.4 L1114.3,661.4 Z"/><rect x="1126.3" y="653.4" width="2" height="2" fill="#00f" stroke="none"/>
<path d="M1175.8,632.1 L1188.8,654.1 L1162.8,654.1 Z"/><rect x="1174.8" y="646.1" width="2" height="2" fill="#00f" stroke="none"/>
<path d="M1236.2,620.5 L1249.2,642.5 L1223.2,642.5 Z"/><rect x="1235.2" y="634.5" width="2" height="2" fill="#00f" stroke="none"/>
<path d="M1285.5,597.3 L1298.5,619.3 L1272.5,619.3 Z"/><rect x="1284.5" y="611.3" width="2" height="2" fill="#00f" stroke="none"/>
<path d="M1320.4,549.4 L1333.4,571.4 L1307.4,571.4 Z"/><rect x="1319.4" y="563.4" width="2" height="2" fill="#00f" stroke="none"/>
<path d="M1343.1,463.9 L1356.1,485.9 L1330.1,485.9 Z"/><rect x="1342.1" y="477.9" width="2" height="2" fill="#00f" stroke="none"/>
<path d="M1343.1,463.9 L1356.1,485.9 L1330.1,485.9 Z"/><rect x="1342.1" y="477.9" width="2" height="2" fill="#00f" stroke="none"/>
<path d="M1334.5,520.6 L1347.5,542.6 L1321.5,542.6 Z"/><rect x="1333.5" y="534.6" width="2" height="2" fill="#00f" stroke="none"/>
<path d="M1321.9,533.0 L1334.9,555.0 L1308.9,555.0 Z"/><rect x="1320.9" y="547.0" width="2" height="2" fill="#00f" stroke="none"/>
<path d="M1284.3,554.1 L1297.3,576.1 L1271.3,576.1 Z"/><rect x="1283.3" y="568.1" width="2" height="2" fill="#00f" stroke="none"/>
<path d="M1227.5,573.0 L1240.5,595.0 L1214.5,595.0 Z"/><rect x="1226.5" y="587.0" width="2" height="2" fill="#00f" stroke="none"/>
<path d="M1185.3,587.1 L1198.3,609.1 L1172.3,609.1 Z"/><rect x="1184.3" y="601.1" width="2" height="2" fill="#00f" stroke="none"/>
<path d="M1131.0,601.6 L1144.0,623.6 L1118.0,623.6 Z"/><rect x="1130.0" y="615.6" width="2" height="2" fill="#00f" stroke="none"/>
<path d="M1073.6,616.1 L1086.6,638.1 L1060.6,638.1 Z"/><rect x="1072.6" y="630.1" width="2" height="2" fill="#00f" stroke="none"/>
<path d="M1017.0,629.2 L1030.0,651.2 L1004.0,651.2 Z"/><rect x="1016.0" y="643.2" width="2" height="2" fill="#00f" stroke="none"/>
<path d="M958.9,640.8 L971.9,662.8 L945.9,662.8 Z"/><rect x="957.9" y="654.8" width="2" height="2" fill="#00f" stroke="none"/>
<path d="M897.0,651.7 L910.0,673.7 L884.0,673.7 Z"/><rect x="896.0" y="665.7" width="2" height="2" fill="#00f" stroke="none"/>
<path d="M848.5,656.6 L861.5,678.6 L835.5,678.6 Z"/><rect x="847.5" y="670.6" width="2" height="2" fill="#00f" stroke="none"/>
<path d="M790.4,660.8 L803.4,682.8 L777.4,682.8 Z"/><rect x="789.4" y="674.8" width="2" height="2" fill="#00f" stroke="none"/>
<path d="M733.7,662.3 L746.7,684.3 L720.7,684.3 Z"/><rect x="732.7" y="676.3" width="2" height="2" fill="#00f" stroke="none"/>
<path d="M677.0,665.2 L690.0,687.2 L664.0,687.2 Z"/><rect x="676.0" y="679.2" width="2" height="2" fill="#00f" stroke="none"/>
<path d="M621.6,667.3 L634.6,689.3 L608.6,689.3 Z"/><rect x="620.6" y="681.3" width="2" height="2" fill="#00f" stroke="none"/>
<path d="M566.3,670.0 L579.3,692.0 L553.3,692.0 Z"/><rect x="565.3" y="684.0" width="2" height="2" fill="#00f" stroke="none"/>
<path d="M508.2,673.2 L521.2,695.2 L495.2,695.2 Z"/><rect x="507.2" y="687.2" width="2" height="2" fill="#00f" stroke="none"/>
<path d="M452.8,675.8 L465.8,697.8 L439.8,697.8 Z"/><rect x="451.8" y="689.8" width="2" height="2" fill="#00f" stroke="none"/>
<path d="M400.0,679.8 L413.0,701.8 L387.0,701.8 Z"/><rect x="399.0" y="693.8" width="2" height="2" fill="#00f" stroke="none"/>
<path d="M347.5,684.0 L360.5,706.0 L334.5,706.0 Z"/><rect x="346.5" y="698.0" width="2" height="2" fill="#00f" stroke="none"/>
<path d="M291.0,692.7 L304.0,714.7 L278.0,714.7 Z"/><rect x="290.0" y="706.7" width="2" height="2" fill="#00f" stroke="none"/>
<path d="M282.8,694.3 L295.8,716.3 L269.8,716.3 Z"/><rect x="281.8" y="708.3" width="2" height="2" fill="#00f" stroke="none"/>
<path d="M276.3,696.0 L289.3,718.0 L263.3,718.0 Z"/><rect x="275.3" y="710.0" width="2" height="2" fill="#00f" stroke="none"/>
<path d="M272.0,700.2 L285.0,722.2 L259.0,722.2 Z"/><rect x="271.0" y="714.2" width="2" height="2" fill="#00f" stroke="none"/>
<path d="M269.6,701.4 L282.6,723.4 L256.6,723.4 Z"/><rect x="268.6" y="715.4" width="2" height="2" fill="#00f" stroke="none"/>
<path d="M267.2,702.6 L280.2,724.6 L254.2,724.6 Z"/><rect x="266.2" y="716.6" width="2" height="2" fill="#00f" stroke="none"/>
<path d="M264.8,703.8 L277.8,725.8 L251.8,725.8 Z"/><rect x="263.8" y="717.8" width="2" height="2" fill="#00f" stroke="none"/>
<path d="M262.4,705.0 L275.4,727.0 L249.4,727.0 Z"/><rect x="261.4" y="719.0" width="2" height="2" fill="#00f" stroke="none"/>
<path d="M260.0,706.2 L273.0,728.2 L247.0,728.2 Z"/><rect x="259.0" y="720.2" width="2" height="2" fill="#00f" stroke="none"/>
<path d="M257.7,707.3 L270.7,729.3 L244.7,729.3 Z"/><rect x="256.7" y="721.3" width="2" height="2" fill="#00f" stroke="none"/>
</g>
<path d="M247.5,1238.0 L247.5,1232.5 L247.5,1227.0 L247.5,1221.5 L247.5,1216.0 L247.5,1210.5 L247.5,1205.0 L247.5,1199.5 L247.5,1194.0 L247.5,1188.5 L247.5,1183.0 L247.5,1177.5 L247.5,1172.0 L247.5,1166.5 L247.5,1161.0 L247.5,1155.5 L247.5,1150.0 L247.5,1144.5 L247.5,1139.0 L247.5,1133.5 L247.5,1128.0 L247.5,1122.5 L247.5,1117.0 L247.5,1111.5 L247.5,1106.0 L247.5,1100.5 L247.5,1095.0 L247.5,1089.5 L247.5,1084.0 L247.5,1078.5 L247.5,1073.0 L247.5,1067.5 L247.5,1062.0 L247.5,1056.5 L247.5,1051.0 L247.5,1045.5 L247.5,1040.0 L247.5,1034.5 L247.5,1029.0 L247.5,1023.5 L247.5,1018.0 L247.5,1012.5 L247.5,1007.0 L247.5,1001.5 L247.5,996.0 L247.5,990.5 L247.5,985.0 L247.5,979.5 L247.5,974.0 L247.5,968.5 L247.5,963.0 L247.5,957.5 L247.5,952.0 L247.5,946.5 L247.5,945.0 L248.0,942.0 L248.5,940.0 L249.0,938.5 L250.0,937.0 L251.0,935.5 L252.0,934.5 L253.0,933.5 L254.5,932.5 L256.0,931.5 L257.5,930.5 L259.0,929.5 L260.5,928.7 L262.0,928.0 L263.5,927.3 L265.0,926.6 L266.5,926.0 L268.0,925.3 L270.0,924.6 L272.0,924.0 L274.0,923.4 L276.0,922.8 L278.6,922.2 L282.0,921.8 L285.0,921.4 L288.5,921.0 L292.0,920.8 L296.0,920.5 L300.0,920.2 L305.6,920.0 L308.8,920.5 L321.0,918.5 L335.8,918.5 L347.3,916.5 L365.0,914.5 L396.0,914.5 L424.5,912.5 L452.0,912.5 L480.3,910.4 L535.2,909.0 L590.6,909.0 L643.2,905.8 L695.9,905.8 L752.6,904.5 L806.6,903.0 L859.3,901.8 L914.6,899.0 L967.6,898.0 L1021.3,896.5 L1073.6,893.6 L1125.8,890.7 L1176.6,886.3 L1236.2,877.6 L1287.0,864.5 L1320.4,834.0 L1342.2,783.2" fill="none" stroke="#f0f" stroke-width="1.5" stroke-dasharray="14,3"/>
<path d="M1342.2,783.2 L1334.9,818.0 L1320.4,828.2 L1284.0,838.4 L1226.0,848.6 L1185.3,857.3 L1130.2,866.0 L1073.6,874.7 L1017.8,882.0 L958.9,887.8 L897.0,896.4 L847.0,899.0 L790.4,900.4 L733.7,903.0 L677.0,904.5 L621.0,905.8 L566.3,907.8 L508.2,910.5 L453.5,912.0 L427.0,912.0 L400.0,914.0 L374.0,914.0" fill="none" stroke="#f0f" stroke-width="1.5" stroke-dasharray="6,2.5"/>
<g fill="none" stroke="#f0f" stroke-width="1.5">
<path d="M247.5,1225.0 L260.5,1238.0 L247.5,1251.0 L234.5,1238.0 Z"/>
<path d="M247.5,1219.5 L260.5,1232.5 L247.5,1245.5 L234.5,1232.5 Z"/>
<path d="M247.5,1214.0 L260.5,1227.0 L247.5,1240.0 L234.5,1227.0 Z"/>
<path d="M247.5,1208.5 L260.5,1221.5 L247.5,1234.5 L234.5,1221.5 Z"/>
<path d="M247.5,1203.0 L260.5,1216.0 L247.5,1229.0 L234.5,1216.0 Z"/>
<path d="M247.5,1197.5 L260.5,1210.5 L247.5,1223.5 L234.5,1210.5 Z"/>
<path d="M247.5,1192.0 L260.5,1205.0 L247.5,1218.0 L234.5,1205.0 Z"/>
<path d="M247.5,1186.5 L260.5,1199.5 L247.5,1212.5 L234.5,1199.5 Z"/>
<path d="M247.5,1181.0 L260.5,1194.0 L247.5,1207.0 L234.5,1194.0 Z"/>
<path d="M247.5,1175.5 L260.5,1188.5 L247.5,1201.5 L234.5,1188.5 Z"/>
<path d="M247.5,1170.0 L260.5,1183.0 L247.5,1196.0 L234.5,1183.0 Z"/>
<path d="M247.5,1164.5 L260.5,1177.5 L247.5,1190.5 L234.5,1177.5 Z"/>
<path d="M247.5,1159.0 L260.5,1172.0 L247.5,1185.0 L234.5,1172.0 Z"/>
<path d="M247.5,1153.5 L260.5,1166.5 L247.5,1179.5 L234.5,1166.5 Z"/>
<path d="M247.5,1148.0 L260.5,1161.0 L247.5,1174.0 L234.5,1161.0 Z"/>
<path d="M247.5,1142.5 L260.5,1155.5 L247.5,1168.5 L234.5,1155.5 Z"/>
<path d="M247.5,1137.0 L260.5,1150.0 L247.5,1163.0 L234.5,1150.0 Z"/>
<path d="M247.5,1131.5 L260.5,1144.5 L247.5,1157.5 L234.5,1144.5 Z"/>
<path d="M247.5,1126.0 L260.5,1139.0 L247.5,1152.0 L234.5,1139.0 Z"/>
<path d="M247.5,1120.5 L260.5,1133.5 L247.5,1146.5 L234.5,1133.5 Z"/>
<path d="M247.5,1115.0 L260.5,1128.0 L247.5,1141.0 L234.5,1128.0 Z"/>
<path d="M247.5,1109.5 L260.5,1122.5 L247.5,1135.5 L234.5,1122.5 Z"/>
<path d="M247.5,1104.0 L260.5,1117.0 L247.5,1130.0 L234.5,1117.0 Z"/>
<path d="M247.5,1098.5 L260.5,1111.5 L247.5,1124.5 L234.5,1111.5 Z"/>
<path d="M247.5,1093.0 L260.5,1106.0 L247.5,1119.0 L234.5,1106.0 Z"/>
<path d="M247.5,1087.5 L260.5,1100.5 L247.5,1113.5 L234.5,1100.5 Z"/>
<path d="M247.5,1082.0 L260.5,1095.0 L247.5,1108.0 L234.5,1095.0 Z"/>
<path d="M247.5,1076.5 L260.5,1089.5 L247.5,1102.5 L234.5,1089.5 Z"/>
<path d="M247.5,1071.0 L260.5,1084.0 L247.5,1097.0 L234.5,1084.0 Z"/>
<path d="M247.5,1065.5 L260.5,1078.5 L247.5,1091.5 L234.5,1078.5 Z"/>
<path d="M247.5,1060.0 L260.5,1073.0 L247.5,1086.0 L234.5,1073.0 Z"/>
<path d="M247.5,1054.5 L260.5,1067.5 L247.5,1080.5 L234.5,1067.5 Z"/>
<path d="M247.5,1049.0 L260.5,1062.0 L247.5,1075.0 L234.5,1062.0 Z"/>
<path d="M247.5,1043.5 L260.5,1056.5 L247.5,1069.5 L234.5,1056.5 Z"/>
<path d="M247.5,1038.0 L260.5,1051.0 L247.5,1064.0 L234.5,1051.0 Z"/>
<path d="M247.5,1032.5 L260.5,1045.5 L247.5,1058.5 L234.5,1045.5 Z"/>
<path d="M247.5,1027.0 L260.5,1040.0 L247.5,1053.0 L234.5,1040.0 Z"/>
<path d="M247.5,1021.5 L260.5,1034.5 L247.5,1047.5 L234.5,1034.5 Z"/>
<path d="M247.5,1016.0 L260.5,1029.0 L247.5,1042.0 L234.5,1029.0 Z"/>
<path d="M247.5,1010.5 L260.5,1023.5 L247.5,1036.5 L234.5,1023.5 Z"/>
<path d="M247.5,1005.0 L260.5,1018.0 L247.5,1031.0 L234.5,1018.0 Z"/>
<path d="M247.5,999.5 L260.5,1012.5 L247.5,1025.5 L234.5,1012.5 Z"/>
<path d="M247.5,994.0 L260.5,1007.0 L247.5,1020.0 L234.5,1007.0 Z"/>
<path d="M247.5,988.5 L260.5,1001.5 L247.5,1014.5 L234.5,1001.5 Z"/>
<path d="M247.5,983.0 L260.5,996.0 L247.5,1009.0 L234.5,996.0 Z"/>
<path d="M247.5,977.5 L260.5,990.5 L247.5,1003.5 L234.5,990.5 Z"/>
<path d="M247.5,972.0 L260.5,985.0 L247.5,998.0 L234.5,985.0 Z"/>
<path d="M247.5,966.5 L260.5,979.5 L247.5,992.5 L234.5,979.5 Z"/>
<path d="M247.5,961.0 L260.5,974.0 L247.5,987.0 L234.5,974.0 Z"/>
<path d="M247.5,955.5 L260.5,968.5 L247.5,981.5 L234.5,968.5 Z"/>
<path d="M247.5,950.0 L260.5,963.0 L247.5,976.0 L234.5,963.0 Z"/>
<path d="M247.5,944.5 L260.5,957.5 L247.5,970.5 L234.5,957.5 Z"/>
<path d="M247.5,939.0 L260.5,952.0 L247.5,965.0 L234.5,952.0 Z"/>
<path d="M247.5,933.5 L260.5,946.5 L247.5,959.5 L234.5,946.5 Z"/>
<path d="M247.5,932.0 L260.5,945.0 L247.5,958.0 L234.5,945.0 Z"/>
<path d="M248.0,929.0 L261.0,942.0 L248.0,955.0 L235.0,942.0 Z"/>
<path d="M248.5,927.0 L261.5,940.0 L248.5,953.0 L235.5,940.0 Z"/>
<path d="M249.0,925.5 L262.0,938.5 L249.0,951.5 L236.0,938.5 Z"/>
<path d="M250.0,924.0 L263.0,937.0 L250.0,950.0 L237.0,937.0 Z"/>
<path d="M251.0,922.5 L264.0,935.5 L251.0,948.5 L238.0,935.5 Z"/>
<path d="M252.0,921.5 L265.0,934.5 L252.0,947.5 L239.0,934.5 Z"/>
<path d="M253.0,920.5 L266.0,933.5 L253.0,946.5 L240.0,933.5 Z"/>
<path d="M254.5,919.5 L267.5,932.5 L254.5,945.5 L241.5,932.5 Z"/>
<path d="M256.0,918.5 L269.0,931.5 L256.0,944.5 L243.0,931.5 Z"/>
<path d="M257.5,917.5 L270.5,930.5 L257.5,943.5 L244.5,930.5 Z"/>
<path d="M259.0,916.5 L272.0,929.5 L259.0,942.5 L246.0,929.5 Z"/>
<path d="M260.5,915.7 L273.5,928.7 L260.5,941.7 L247.5,928.7 Z"/>
<path d="M262.0,915.0 L275.0,928.0 L262.0,941.0 L249.0,928.0 Z"/>
<path d="M263.5,914.3 L276.5,927.3 L263.5,940.3 L250.5,927.3 Z"/>
<path d="M265.0,913.6 L278.0,926.6 L265.0,939.6 L252.0,926.6 Z"/>
<path d="M266.5,913.0 L279.5,926.0 L266.5,939.0 L253.5,926.0 Z"/>
<path d="M268.0,912.3 L281.0,925.3 L268.0,938.3 L255.0,925.3 Z"/>
<path d="M270.0,911.6 L283.0,924.6 L270.0,937.6 L257.0,924.6 Z"/>
<path d="M272.0,911.0 L285.0,924.0 L272.0,937.0 L259.0,924.0 Z"/>
<path d="M274.0,910.4 L287.0,923.4 L274.0,936.4 L261.0,923.4 Z"/>
<path d="M276.0,909.8 L289.0,922.8 L276.0,935.8 L263.0,922.8 Z"/>
<path d="M278.6,909.2 L291.6,922.2 L278.6,935.2 L265.6,922.2 Z"/>
<path d="M282.0,908.8 L295.0,921.8 L282.0,934.8 L269.0,921.8 Z"/>
<path d="M285.0,908.4 L298.0,921.4 L285.0,934.4 L272.0,921.4 Z"/>
<path d="M288.5,908.0 L301.5,921.0 L288.5,934.0 L275.5,921.0 Z"/>
<path d="M292.0,907.8 L305.0,920.8 L292.0,933.8 L279.0,920.8 Z"/>
<path d="M296.0,907.5 L309.0,920.5 L296.0,933.5 L283.0,920.5 Z"/>
<path d="M300.0,907.2 L313.0,920.2 L300.0,933.2 L287.0,920.2 Z"/>
<path d="M305.6,907.0 L318.6,920.0 L305.6,933.0 L292.6,920.0 Z"/>
<path d="M308.8,907.5 L321.8,920.5 L308.8,933.5 L295.8,920.5 Z"/>
<path d="M321.0,905.5 L334.0,918.5 L321.0,931.5 L308.0,918.5 Z"/>
<path d="M335.8,905.5 L348.8,918.5 L335.8,931.5 L322.8,918.5 Z"/>
<path d="M347.3,903.5 L360.3,916.5 L347.3,929.5 L334.3,916.5 Z"/>
<path d="M365.0,901.5 L378.0,914.5 L365.0,927.5 L352.0,914.5 Z"/>
<path d="M396.0,901.5 L409.0,914.5 L396.0,927.5 L383.0,914.5 Z"/>
<path d="M424.5,899.5 L437.5,912.5 L424.5,925.5 L411.5,912.5 Z"/>
<path d="M452.0,899.5 L465.0,912.5 L452.0,925.5 L439.0,912.5 Z"/>
<path d="M480.3,897.4 L493.3,910.4 L480.3,923.4 L467.3,910.4 Z"/>
<path d="M535.2,896.0 L548.2,909.0 L535.2,922.0 L522.2,909.0 Z"/>
<path d="M590.6,896.0 L603.6,909.0 L590.6,922.0 L577.6,909.0 Z"/>
<path d="M643.2,892.8 L656.2,905.8 L643.2,918.8 L630.2,905.8 Z"/>
<path d="M695.9,892.8 L708.9,905.8 L695.9,918.8 L682.9,905.8 Z"/>
<path d="M752.6,891.5 L765.6,904.5 L752.6,917.5 L739.6,904.5 Z"/>
<path d="M806.6,890.0 L819.6,903.0 L806.6,916.0 L793.6,903.0 Z"/>
<path d="M859.3,888.8 L872.3,901.8 L859.3,914.8 L846.3,901.8 Z"/>
<path d="M914.6,886.0 L927.6,899.0 L914.6,912.0 L901.6,899.0 Z"/>
<path d="M967.6,885.0 L980.6,898.0 L967.6,911.0 L954.6,898.0 Z"/>
<path d="M1021.3,883.5 L1034.3,896.5 L1021.3,909.5 L1008.3,896.5 Z"/>
<path d="M1073.6,880.6 L1086.6,893.6 L1073.6,906.6 L1060.6,893.6 Z"/>
<path d="M1125.8,877.7 L1138.8,890.7 L1125.8,903.7 L1112.8,890.7 Z"/>
<path d="M1176.6,873.3 L1189.6,886.3 L1176.6,899.3 L1163.6,886.3 Z"/>
<path d="M1236.2,864.6 L1249.2,877.6 L1236.2,890.6 L1223.2,877.6 Z"/>
<path d="M1287.0,851.5 L1300.0,864.5 L1287.0,877.5 L1274.0,864.5 Z"/>
<path d="M1320.4,821.0 L1333.4,834.0 L1320.4,847.0 L1307.4,834.0 Z"/>
<path d="M1342.2,770.2 L1355.2,783.2 L1342.2,796.2 L1329.2,783.2 Z"/>
<path d="M1342.2,770.2 L1355.2,783.2 L1342.2,796.2 L1329.2,783.2 Z"/>
<path d="M1334.9,805.0 L1347.9,818.0 L1334.9,831.0 L1321.9,818.0 Z"/>
<path d="M1320.4,815.2 L1333.4,828.2 L1320.4,841.2 L1307.4,828.2 Z"/>
<path d="M1284.0,825.4 L1297.0,838.4 L1284.0,851.4 L1271.0,838.4 Z"/>
<path d="M1226.0,835.6 L1239.0,848.6 L1226.0,861.6 L1213.0,848.6 Z"/>
<path d="M1185.3,844.3 L1198.3,857.3 L1185.3,870.3 L1172.3,857.3 Z"/>
<path d="M1130.2,853.0 L1143.2,866.0 L1130.2,879.0 L1117.2,866.0 Z"/>
<path d="M1073.6,861.7 L1086.6,874.7 L1073.6,887.7 L1060.6,874.7 Z"/>
<path d="M1017.8,869.0 L1030.8,882.0 L1017.8,895.0 L1004.8,882.0 Z"/>
<path d="M958.9,874.8 L971.9,887.8 L958.9,900.8 L945.9,887.8 Z"/>
<path d="M897.0,883.4 L910.0,896.4 L897.0,909.4 L884.0,896.4 Z"/>
<path d="M847.0,886.0 L860.0,899.0 L847.0,912.0 L834.0,899.0 Z"/>
<path d="M790.4,887.4 L803.4,900.4 L790.4,913.4 L777.4,900.4 Z"/>
<path d="M733.7,890.0 L746.7,903.0 L733.7,916.0 L720.7,903.0 Z"/>
<path d="M677.0,891.5 L690.0,904.5 L677.0,917.5 L664.0,904.5 Z"/>
<path d="M621.0,892.8 L634.0,905.8 L621.0,918.8 L608.0,905.8 Z"/>
<path d="M566.3,894.8 L579.3,907.8 L566.3,920.8 L553.3,907.8 Z"/>
<path d="M508.2,897.5 L521.2,910.5 L508.2,923.5 L495.2,910.5 Z"/>
<path d="M453.5,899.0 L466.5,912.0 L453.5,925.0 L440.5,912.0 Z"/>
<path d="M427.0,899.0 L440.0,912.0 L427.0,925.0 L414.0,912.0 Z"/>
<path d="M400.0,901.0 L413.0,914.0 L400.0,927.0 L387.0,914.0 Z"/>
<path d="M374.0,901.0 L387.0,914.0 L374.0,927.0 L361.0,914.0 Z"/>
</g>
</g>
<g fill="#000">
<g transform="translate(755.50,446.30) scale(0.951,1)"><text x="0" y="0" font-family="Liberation Serif, serif" font-weight="bold" font-size="45">NaX</text></g>
<text x="673.60" y="546.50" font-family="Liberation Serif, serif" font-weight="bold" font-size="45">3Mg</text>
<text x="761.10" y="546.50" font-family="Liberation Serif, serif" font-weight="normal" font-size="45">/</text>
<text x="773.60" y="546.50" font-family="Liberation Serif, serif" font-weight="bold" font-size="45">NaX</text>
<text x="666.50" y="648.00" font-family="Liberation Serif, serif" font-weight="bold" font-size="45">6Mg</text>
<text x="754.00" y="648.00" font-family="Liberation Serif, serif" font-weight="normal" font-size="45">/</text>
<text x="766.50" y="648.00" font-family="Liberation Serif, serif" font-weight="bold" font-size="45">NaX</text>
<text x="667.70" y="886.40" font-family="Liberation Serif, serif" font-weight="bold" font-size="45">9Mg</text>
<text x="755.20" y="886.40" font-family="Liberation Serif, serif" font-weight="normal" font-size="45">/</text>
<text x="767.70" y="886.40" font-family="Liberation Serif, serif" font-weight="bold" font-size="45">NaX</text>
<g transform="translate(625.60,1399.00) scale(0.9836,1)"><text x="0" y="0" font-family="Liberation Serif, serif" font-weight="bold" font-size="55">Relative pressure</text></g>
<text x="1037.80" y="1399.00" font-family="Liberation Serif, serif" font-weight="normal" font-size="55">(</text>
<text x="1055.70" y="1399.00" font-family="Liberation Serif, serif" font-weight="bold" font-size="55">P</text>
<text x="1088.50" y="1399.00" font-family="Liberation Serif, serif" font-weight="normal" font-size="55">/</text>
<text x="1103.70" y="1399.00" font-family="Liberation Serif, serif" font-weight="bold" font-size="55">P</text>
<text x="1137.00" y="1409.20" font-family="Liberation Serif, serif" font-weight="bold" font-size="52">0</text>
<text x="1161.40" y="1399.00" font-family="Liberation Serif, serif" font-weight="normal" font-size="55">)</text>
<g transform="translate(73.00,968.30) rotate(-90) scale(0.9757,1)"><text x="0" y="0" font-family="Liberation Serif, serif" font-weight="bold" font-size="56">Volume adsorbed</text></g>
<g transform="translate(71.90,547.30) rotate(-90) scale(1,1)"><text x="0" y="0" font-family="Liberation Serif, serif" font-weight="normal" font-size="30">(</text></g>
<g transform="translate(72.30,535.60) rotate(-90) scale(0.929,1)"><text x="0" y="0" font-family="Liberation Serif, serif" font-weight="bold" font-size="56">cm</text></g>
<g transform="translate(57.10,467.90) rotate(-90) scale(0.97,1)"><text x="0" y="0" font-family="Liberation Serif, serif" font-weight="bold" font-size="52">3</text></g>
<g transform="translate(73.30,439.40) rotate(-90) scale(1,1)"><text x="0" y="0" font-family="Liberation Serif, serif" font-weight="normal" font-size="54">/</text></g>
<g transform="translate(73.20,425.00) rotate(-90) scale(0.944,1)"><text x="0" y="0" font-family="Liberation Serif, serif" font-weight="bold" font-size="51">g</text></g>
<g transform="translate(72.30,386.30) rotate(-90) scale(0.969,1)"><text x="0" y="0" font-family="Liberation Serif, serif" font-weight="bold" font-size="56">STP</text></g>
<g transform="translate(72.50,285.70) rotate(-90) scale(1,1)"><text x="0" y="0" font-family="Liberation Serif, serif" font-weight="normal" font-size="30">)</text></g>
</g>
</svg>
</body></html>
